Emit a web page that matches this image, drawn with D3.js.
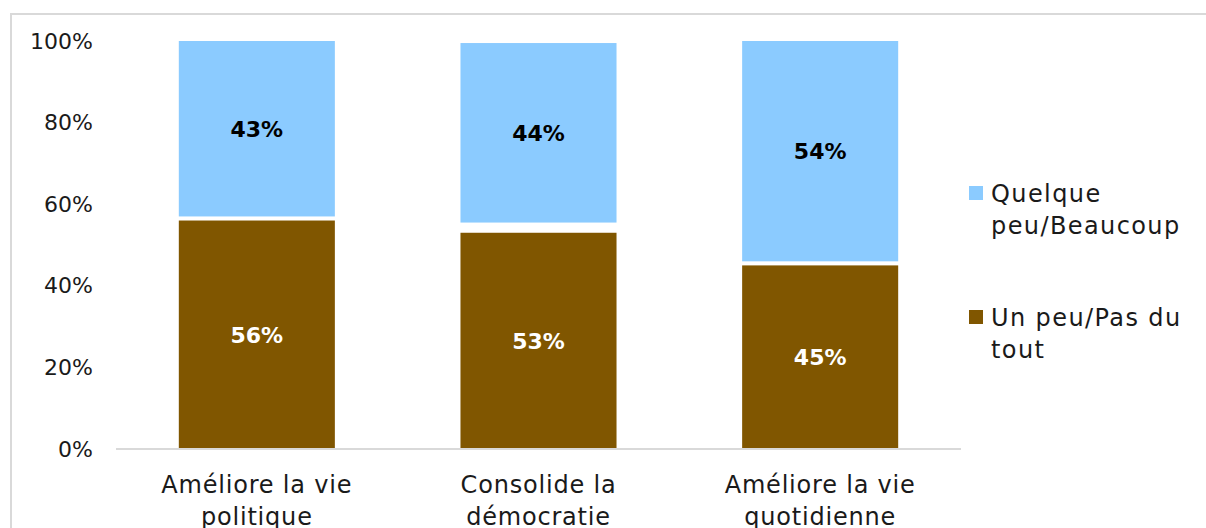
<!DOCTYPE html>
<html>
<head>
<meta charset="utf-8">
<script src="https://cdn.jsdelivr.net/npm/d3@7"></script>
<style>
  html, body { margin: 0; padding: 0; background: #fff; }
  svg { display: block; font-family: "Century Gothic", "DejaVu Sans", sans-serif; }
</style>
</head>
<body>
<svg id="chart" width="1206" height="528"></svg>
<script>
// Categories (two-line labels)
const categories = [
  ["Améliore la vie", "politique"],
  ["Consolide la", "démocratie"],
  ["Améliore la vie", "quotidienne"]
];
// Series values, in percent
const pasDuTout = [56, 53, 45];       // Un peu/Pas du tout
const sansReponse = [1, 2.5, 1];      // remainder, left blank between segments
const beaucoup = [43, 44, 54];        // Quelque peu/Beaucoup
const yTicks = [0, 20, 40, 60, 80, 100];

const colors = { beaucoup: "#8BCBFF", pasDuTout: "#805600" };

const svg = d3.select("#chart");

// outer frame
svg.append("rect")
  .attr("x", 11).attr("y", 14)
  .attr("width", 1200).attr("height", 530)
  .attr("fill", "none").attr("stroke", "#d9d9d9").attr("stroke-width", 2);

const x = d3.scaleBand()
  .domain(d3.range(categories.length))
  .range([116, 961])
  .paddingInner(0.446)
  .paddingOuter(0.223);

const y = d3.scaleLinear().domain([0, 100]).range([449, 41]);

// stacked rows
const rows = categories.map((c, i) => ({
  i, pasDuTout: pasDuTout[i], sansReponse: sansReponse[i], beaucoup: beaucoup[i]
}));
const stack = d3.stack().keys(["pasDuTout", "sansReponse", "beaucoup"])(rows);

// y axis labels
const yAxis = d3.axisLeft(y).tickValues(yTicks).tickFormat(d => d + "%").tickSize(0).tickPadding(0);
const gy = svg.append("g").attr("transform", "translate(93,0)").call(yAxis);
gy.select(".domain").remove();
gy.selectAll("text")
  .attr("font-size", 22)
  .attr("fill", "#1a1a1a")
  .attr("font-family", "'Century Gothic', 'DejaVu Sans', sans-serif");

// bars
stack.forEach(layer => {
  if (layer.key === "sansReponse") return;
  svg.append("g").selectAll("rect")
    .data(layer)
    .join("rect")
    .attr("x", (d, i) => x(i))
    .attr("width", x.bandwidth())
    .attr("y", d => y(d[1]))
    .attr("height", d => y(d[0]) - y(d[1]))
    .attr("fill", colors[layer.key]);
});

// baseline
svg.append("line")
  .attr("x1", 116).attr("x2", 961)
  .attr("y1", y(0)).attr("y2", y(0))
  .attr("stroke", "#d9d9d9").attr("stroke-width", 2);

// value labels
stack.forEach(layer => {
  if (layer.key === "sansReponse") return;
  svg.append("g").selectAll("text")
    .data(layer)
    .join("text")
    .attr("x", (d, i) => x(i) + x.bandwidth() / 2)
    .attr("y", d => (y(d[0]) + y(d[1])) / 2)
    .attr("dy", "0.36em")
    .attr("text-anchor", "middle")
    .attr("font-size", 22)
    .attr("font-weight", "bold")
    .attr("fill", layer.key === "pasDuTout" ? "#ffffff" : "#000000")
    .text(d => d.data[layer.key] + "%");
});

// category labels
const gx = svg.append("g");
categories.forEach((lines, i) => {
  const cx = x(i) + x.bandwidth() / 2;
  const t = gx.append("text")
    .attr("x", cx)
    .attr("y", 493)
    .attr("text-anchor", "middle")
    .attr("font-size", 24)
    .attr("letter-spacing", "0.8px")
    .attr("fill", "#1a1a1a");
  lines.forEach((ln, k) => {
    t.append("tspan").attr("x", cx).attr("dy", k === 0 ? 0 : 32).text(ln);
  });
});

// legend
const legend = [
  { key: "beaucoup", lines: ["Quelque", "peu/Beaucoup"], top: 186 },
  { key: "pasDuTout", lines: ["Un peu/Pas du", "tout"], top: 310 }
];
const lg = svg.append("g");
legend.forEach(l => {
  lg.append("rect")
    .attr("x", 969).attr("y", l.top)
    .attr("width", 14).attr("height", 14)
    .attr("fill", colors[l.key]);
  const t = lg.append("text")
    .attr("x", 991).attr("y", l.top + 16)
    .attr("font-size", 24)
    .attr("letter-spacing", "1.4px")
    .attr("fill", "#1a1a1a");
  l.lines.forEach((ln, k) => {
    t.append("tspan").attr("x", 991).attr("dy", k === 0 ? 0 : 32).text(ln);
  });
});
</script>
</body>
</html>
